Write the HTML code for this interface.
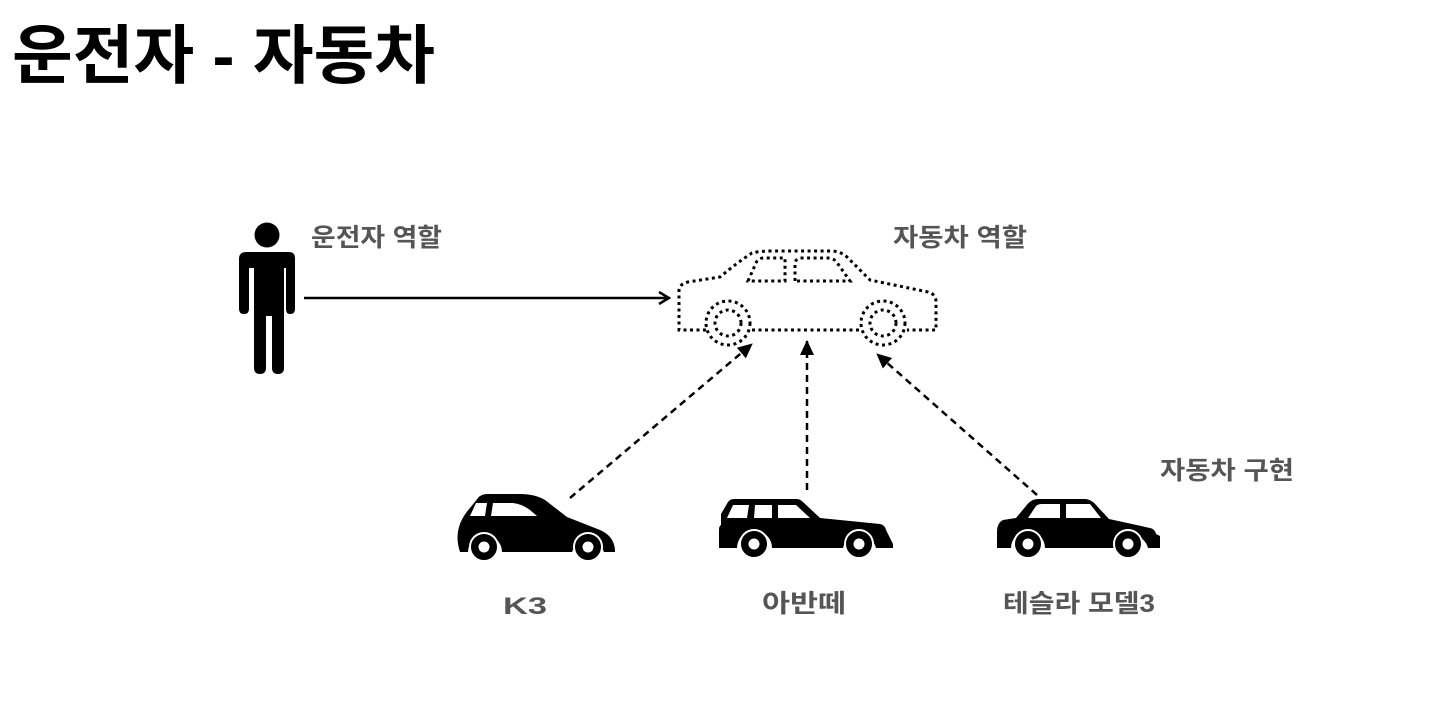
<!DOCTYPE html>
<html><head><meta charset="utf-8"><style>
html,body{margin:0;padding:0;background:#fff;}
svg{display:block;}
.t{font-family:"Liberation Sans","Noto Sans CJK KR",sans-serif;font-weight:bold;}
</style></head><body>
<svg width="1456" height="706" viewBox="0 0 1456 706" xmlns="http://www.w3.org/2000/svg">
<defs>
<marker id="oa" markerWidth="14" markerHeight="14" refX="12" refY="7" orient="auto" markerUnits="userSpaceOnUse">
<path d="M2,1 L12,7 L2,13" fill="none" stroke="#000" stroke-width="2.5"/>
</marker>
<marker id="fa" markerWidth="16" markerHeight="16" refX="14" refY="8" orient="auto" markerUnits="userSpaceOnUse">
<path d="M0,1 L15,8 L0,15 Z" fill="#000"/>
</marker>
</defs>
<text class="t" x="12" y="78" font-size="64" fill="#000" textLength="423" lengthAdjust="spacingAndGlyphs">운전자 - 자동차</text>

<text class="t" x="311" y="246" font-size="25" fill="#555" textLength="131" lengthAdjust="spacingAndGlyphs">운전자 역할</text>
<text class="t" x="893" y="246" font-size="25" fill="#555" textLength="134" lengthAdjust="spacingAndGlyphs">자동차 역할</text>
<text class="t" x="1160" y="479" font-size="25" fill="#555" textLength="134" lengthAdjust="spacingAndGlyphs">자동차 구현</text>
<text class="t" x="503" y="614" font-size="24" fill="#555" textLength="44" lengthAdjust="spacingAndGlyphs">K3</text>
<text class="t" x="762" y="612" font-size="25" fill="#555" textLength="84" lengthAdjust="spacingAndGlyphs">아반떼</text>
<text class="t" x="1003" y="612" font-size="25" fill="#555" textLength="152" lengthAdjust="spacingAndGlyphs">테슬라 모델3</text>

<!-- person -->
<circle cx="267" cy="235" r="12.5" fill="#000"/>
<path d="M246,252 H289 Q295,252 295,258 V309 Q295,314 290,314 Q286,314 286,309 V268 H284 V368 Q284,374 278,374 Q272,374 272,368 V316 H266 V368 Q266,374 260,374 Q254,374 254,368 V268 H249 V309 Q249,314 244,314 Q239,314 239,309 V259 Q239,252 246,252 Z" fill="#000"/>

<line x1="304" y1="298" x2="669" y2="298" stroke="#000" stroke-width="2.5" marker-end="url(#oa)"/>

<!-- dotted car -->
<g fill="none" stroke="#000" stroke-width="3" stroke-dasharray="3 3.5">
<path d="M706,330 H679 V291 Q679,284 688,282 L720,277 Q738,262 752,253 Q760,251 772,251 H833 Q842,252 848,258 L870,280 L928,292 Q936,294 936,302 V330 H907 M859,330 H751"/>
<path d="M748,281 L756,263 Q758,258 764,258 H785 V281 Z"/>
<path d="M795,281 V263 Q796,258 802,258 H830 Q835,259 838,264 L850,281 Z"/>
<circle cx="728" cy="323" r="22"/>
<circle cx="728" cy="323" r="13"/>
<circle cx="883" cy="323" r="22"/>
<circle cx="883" cy="323" r="13"/>
</g>

<g stroke="#000" stroke-width="2.5" stroke-dasharray="7 5" fill="none">
<line x1="570" y1="498" x2="752" y2="344" marker-end="url(#fa)"/>
<line x1="807" y1="490" x2="807" y2="341" marker-end="url(#fa)"/>
<line x1="1037" y1="495" x2="877" y2="354" marker-end="url(#fa)"/>
</g>

<!-- K3 -->
<g>
<path d="M460,552 Q452,528 470,508 L478,498 Q481,494 488,494 H520 Q535,494 545,500 L567,517 L600,530 Q614,536 615,550 V552 H604 A17,17 0 0 0 572,552 H502 A17,17 0 0 0 468,552 Z" fill="#000"/>
<path d="M470,516 L476,503 H487 L485,516 Z M491,516 L493,503 H513 Q522,504 530,510 L537,516 Z" fill="#fff"/>
<circle cx="484" cy="547" r="14" fill="#000" stroke="#fff" stroke-width="2"/>
<circle cx="484" cy="547" r="5.5" fill="#fff"/>
<circle cx="588" cy="547" r="14" fill="#000" stroke="#fff" stroke-width="2"/>
<circle cx="588" cy="547" r="5.5" fill="#fff"/>
</g>

<!-- Avante -->
<g>
<path d="M719,548 V530 Q719,526 721,525 V514 L728,502 Q730,499 734,499 H797 Q800,499 803,502 L820,518 L880,524 Q885,525 886,530 L893,544 V548 H876 A17,17 0 0 0 843,548 H772 A17,17 0 0 0 737,548 Z" fill="#000"/>
<path d="M727,518 L733,505 H749 L747,518 Z M754,518 L755,505 H772 V518 Z M778,518 V505 H796 L810,518 Z" fill="#fff"/>
<circle cx="754" cy="544" r="14" fill="#000" stroke="#fff" stroke-width="2"/>
<circle cx="754" cy="544" r="5.5" fill="#fff"/>
<circle cx="859" cy="544" r="14" fill="#000" stroke="#fff" stroke-width="2"/>
<circle cx="859" cy="544" r="5.5" fill="#fff"/>
</g>

<!-- Tesla -->
<g>
<path d="M997,548 V532 Q997,523 1003,520 L1016,518 L1026,506 Q1031,499 1038,499 H1086 Q1092,500 1096,505 L1109,519 L1150,528 Q1155,529 1156,534 L1160,536 V548 H1148 A17,17 0 0 0 1115,548 H1045 A17,17 0 0 0 1011,548 Z" fill="#000"/>
<path d="M1028,518 L1036,506 Q1038,504 1042,504 H1060 V518 Z M1066,518 V504 H1090 L1101,518 Z" fill="#fff"/>
<circle cx="1028" cy="544" r="14" fill="#000" stroke="#fff" stroke-width="2"/>
<circle cx="1028" cy="544" r="5.5" fill="#fff"/>
<circle cx="1128" cy="544" r="14" fill="#000" stroke="#fff" stroke-width="2"/>
<circle cx="1128" cy="544" r="5.5" fill="#fff"/>
</g>
</svg>
</body></html>
